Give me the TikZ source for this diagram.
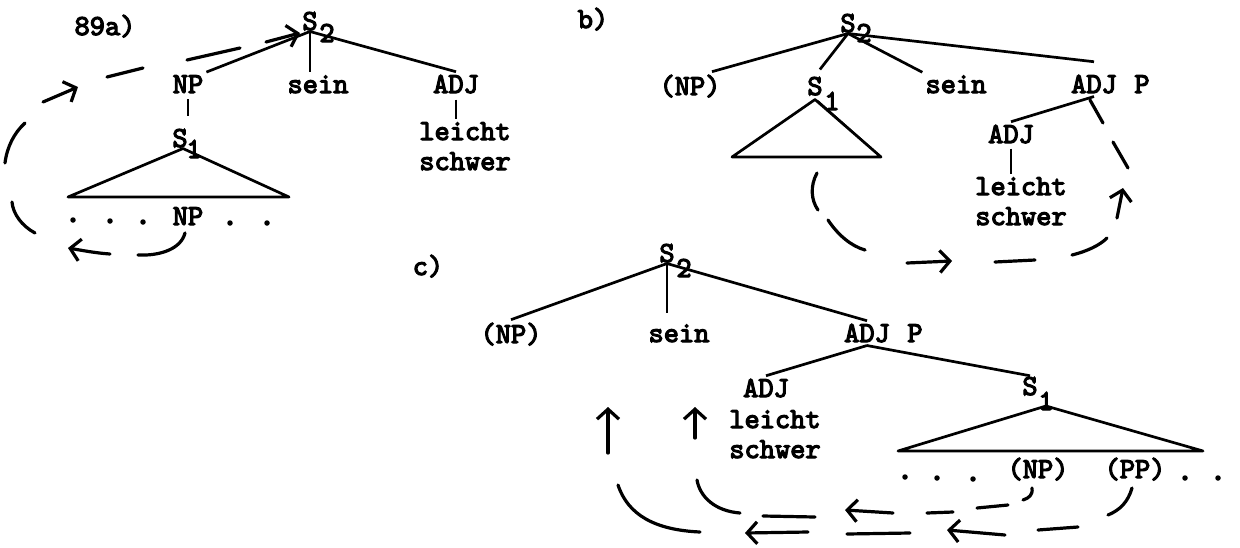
\documentclass[tikz,border=0pt]{standalone}
\usepackage{fontspec}
\newfontfamily\typewriter{lmmono10-regular.otf}[FakeBold=4]
\usetikzlibrary{arrows.meta}
\begin{document}
\begin{tikzpicture}[x=1pt,y=-1pt,
  cat/.style={font=\fontsize{29}{32}\selectfont\typewriter, inner sep=3pt, anchor=base},
  idx/.style={cat, inner sep=1pt},
  tree/.style={line width=2.7pt, line join=round},
  mv/.style={line width=3.2pt, line cap=round},
  mvarr/.style={mv, -{Straight Barb[length=10pt,width=22pt]}},
  dotmark/.style={circle, fill, inner sep=0pt, minimum size=5.5pt}
]
\useasboundingbox (0,0) rectangle (1240,547);

% ---------- (a) ----------
\node[cat] (lblA) at (105,35) {89a)};
\node[idx] (aS2) at (310,30) {S};
\node[idx] (aS2i) at (327,42) {2};
\node[cat] (aNP) at (188,93) {NP};
\node[cat] (aSein) at (318,93) {sein};
\node[cat] (aADJ) at (456,93) {ADJ};
\node[cat] (aLeicht) at (465,140) {leicht};
\node[cat] (aSchwer) at (465,170) {schwer};
\node[idx] (aS1) at (180,147) {S};
\node[idx] (aS1i) at (194,158) {1};
\node[cat] (aNPb) at (188,225) {NP};
\node[dotmark] (ad1) at (73,220) {};
\node[dotmark] (ad2) at (110,221) {};
\node[dotmark] (ad3) at (143,222) {};
\node[dotmark] (ad4) at (230,223) {};
\node[dotmark] (ad5) at (267,223) {};
\coordinate (aTL) at (68,197);
\coordinate (aTR) at (289,197);

\draw[tree] (aS2.south) -- (aNP.north east);
\draw[tree] (aS2.south) -- (aS2.south |- aSein.north);
\draw[tree] (aS2.south) -- (aADJ.north);
\draw[tree, shorten <=3pt, shorten >=12pt] (aNP.south) -- (aNP.south |- aS1.north);
\draw[tree, shorten <=3pt] (aADJ.south) -- (aADJ.south |- aLeicht.north);
\draw[tree] ([xshift=3pt]aS1.south) -- (aTL) -- (aTR) -- cycle;

% movement strokes
\draw[mv] (185,233) .. controls (181,249) and (160,256) .. (138,255);
\draw[mvarr] (110,254) .. controls (95,253) and (80,250) .. (68,248);
\draw[mv] (35,233) .. controls (22,226) and (13,214) .. (12,202);
\draw[mv] (5,163) .. controls (7,147) and (14,133) .. (25,123);
\draw[mvarr] (43,102) -- (78,87);
\draw[mv] (107,77) -- (143,68);
\draw[mv] (187,60) -- (240,48);
\draw[mvarr] (266,42) -- (300,33);

% ---------- (b) ----------
\node[cat] (lblB) at (593,28) {b)};
\node[idx] (bS2) at (848,32) {S};
\node[idx] (bS2i) at (864,42) {2};
\node[cat] (bNP) at (690,95) {(NP)};
\node[idx] (bS1) at (815,95) {S};
\node[idx] (bS1i) at (832,110) {1};
\node[cat] (bSein) at (956,93) {sein};
\node[cat] (bADJP) at (1094,93) {ADJ};
\node[cat] (bP) at (1142,93) {P};
\node[cat] (bADJ) at (1011,143) {ADJ};
\node[cat] (bLeicht) at (1021,195) {leicht};
\node[cat] (bSchwer) at (1021,225) {schwer};
\coordinate (bTL) at (732,157);
\coordinate (bTR) at (881,157);

\draw[tree] (bS2.south) -- ([xshift=22pt]bNP.north);
\draw[tree, shorten >=8pt] (bS2.south) -- (bS1.north);
\draw[tree] (bS2.south) -- (bSein.north west);
\draw[tree] (bS2.south) -- ([yshift=10pt]bADJP.north);
\draw[tree] (bADJP.south) -- (bADJ.north);
\draw[tree, shorten <=2pt] (bADJ.south) -- (bADJ.south |- bLeicht.north);
\draw[tree] ([yshift=-3pt]bS1.south) -- (bTL) -- (bTR) -- cycle;
\draw[line width=0.9pt] ([xshift=3pt,yshift=-4pt]bS1.south) -- ([xshift=-1pt,yshift=1.5pt]bTR);

% movement strokes
\draw[mv] (817,173) .. controls (810,186) and (811,200) .. (818,210);
\draw[mv] (828,220) .. controls (838,235) and (851,246) .. (865,250);
\draw[mvarr] (907,263) -- (952,261);
\draw[mv] (995,262) -- (1035,260);
\draw[mv] (1072,255) .. controls (1088,251) and (1100,245) .. (1107,238);
\draw[mvarr] (1117,218) -- (1123,188);
\draw[mv] (1113,142) -- (1128,168);
\draw[mv] (1090,100) -- (1103,123);

% ---------- (c) ----------
\node[cat] (lblC) at (428,275) {c)};
\node[idx] (cS2) at (667,262) {S};
\node[idx] (cS2i) at (684,277) {2};
\node[cat] (cNP) at (511,343) {(NP)};
\node[cat] (cSein) at (679,342) {sein};
\node[cat] (cADJP) at (867,342) {ADJ};
\node[cat] (cP) at (915,342) {P};
\node[cat] (cADJ) at (766,397) {ADJ};
\node[cat] (cLeicht) at (775,428) {leicht};
\node[cat] (cSchwer) at (775,458) {schwer};
\node[idx] (cS1) at (1030,395) {S};
\node[idx] (cS1i) at (1046,410) {1};
\node[cat] (cNPb) at (1038,478) {(NP)};
\node[cat] (cPPb) at (1135,478) {(PP)};
\node[dotmark] (cd1) at (905,477) {};
\node[dotmark] (cd2) at (937,478) {};
\node[dotmark] (cd3) at (973,479) {};
\node[dotmark] (cd4) at (1185,478) {};
\node[dotmark] (cd5) at (1218,478) {};
\coordinate (cTA) at (1046,406);
\coordinate (cTL) at (898,451);
\coordinate (cTR) at (1203,451);

\draw[tree] (cS2.south) -- (cNP.north);
\draw[tree, shorten >=8pt] (cS2.south) -- (cS2.south |- cSein.north);
\draw[tree] (cS2.south) -- (cADJP.north);
\draw[tree] (cADJP.south) -- (cADJ.north);
\draw[tree] (cADJP.south) -- (cS1.north);
\draw[tree] (cTA) -- (cTL) -- (cTR) -- cycle;

% movement strokes from (NP)
\draw[mv] (1032,488) .. controls (1033,495) and (1029,498) .. (1023,500);
\draw[mv] (1008,505) -- (977,508);
\draw[mv] (953,512) -- (927,513);
\draw[mvarr] (893,513) -- (845,510);
\draw[mv] (815,517) -- (763,516);
\draw[mv] (740,513) .. controls (715,511) and (700,497) .. (697,480);
\draw[mvarr] (695,438) -- (695,407);
% movement strokes from (PP)
\draw[mv] (1132,488) .. controls (1128,502) and (1120,510) .. (1108,515);
\draw[mv] (1078,527) -- (1038,530);
\draw[mvarr] (1005,535) -- (947,530);
\draw[mv] (910,533) -- (847,534);
\draw[mvarr] (808,532) -- (745,533);
\draw[mv] (700,532) .. controls (655,530) and (628,515) .. (618,485);
\draw[mvarr] (608,453) -- (608,407);
\end{tikzpicture}
\end{document}
